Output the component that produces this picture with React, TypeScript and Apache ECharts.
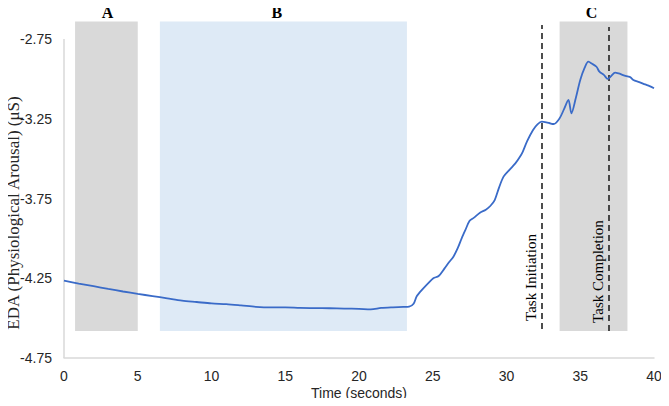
import React, { useEffect, useRef } from "react";
import * as echarts from "echarts";

// EDA trace samples: time (s) and skin conductance (µS)
const timeSec = [
  0, 1, 2, 3, 4, 5, 6, 7, 8, 9, 10, 11, 12, 13, 14, 15, 16, 17, 18, 19, 20,
  20.8, 21.5, 22.3, 23.0, 23.4, 23.7, 23.9, 24.1, 24.36, 24.7, 25.04, 25.4,
  25.8, 26.1, 26.4, 26.7, 26.96, 27.2, 27.5, 27.8, 28.2, 28.6, 28.9, 29.2,
  29.5, 29.8, 30.2, 30.6, 30.9, 31.1, 31.4, 31.8, 32.1, 32.39, 32.7, 33.0,
  33.2, 33.6, 33.9, 34.2, 34.4, 34.7, 35.0, 35.3, 35.55, 35.8, 36.1, 36.3,
  36.6, 36.86, 37.1, 37.36, 37.6, 37.9, 38.2, 38.4, 38.6, 39.0, 39.4, 39.7,
  40.0,
];
const edaValues = [
  -4.265, -4.283, -4.3, -4.317, -4.333, -4.348, -4.362, -4.376, -4.39,
  -4.399, -4.408, -4.412, -4.42, -4.429, -4.433, -4.433, -4.436, -4.437,
  -4.438, -4.44, -4.442, -4.445, -4.436, -4.432, -4.43, -4.428, -4.41,
  -4.365, -4.34, -4.313, -4.28, -4.25, -4.236, -4.188, -4.15, -4.115,
  -4.06, -4.0, -3.95, -3.89, -3.87, -3.839, -3.82, -3.797, -3.76, -3.68,
  -3.613, -3.57, -3.53, -3.49, -3.457, -3.39, -3.32, -3.285, -3.268,
  -3.272, -3.28, -3.283, -3.247, -3.19, -3.132, -3.216, -3.12, -3.007,
  -2.93, -2.892, -2.905, -2.924, -2.955, -2.975, -3.0, -2.982, -2.961,
  -2.966, -2.976, -2.985, -2.99, -3.007, -3.02, -3.035, -3.045, -3.059,
];

// Shaded phases: label, start/end time, top/bottom value
const phaseNames = ["A", "B", "C"];
const phaseStart = [0.75, 6.5, 33.6];
const phaseEnd = [5.0, 23.25, 38.2];
const phaseTop = -2.64;
const phaseBottom = -4.58;
const phaseColors = ["#d9d9d9", "#deeaf6", "#d9d9d9"];
const phaseLabelShift = [1, -6.5, -2];

// Event markers
const eventNames = ["Task Initiation", "Task Completion"];
const eventTimes = [32.4, 36.9];
const eventTop = [-2.662, -2.675];
const eventBottom = [-4.568, -4.58];

// Axis ticks; the value range runs a little above the top tick so the
// phase boxes and event markers can rise past the axis
const yTicks = [-4.75, -4.25, -3.75, -3.25, -2.75];
const yRangeMax = -2.55;
const xTicks = [0, 5, 10, 15, 20, 25, 30, 35, 40];

const yTitle = "EDA (Physiological Arousal) (\u03bcS)";
const xTitle = "Time (seconds)";

export default function App() {
  const ref = useRef<HTMLDivElement>(null);

  useEffect(() => {
    if (!ref.current) return;
    const chart = echarts.init(ref.current, undefined, { renderer: "svg" });

    const serif = "'Liberation Serif', 'Times New Roman', serif";
    const sans = "'Liberation Sans', Arial, sans-serif";
    const axisGray = "#d9d9d9";

    const yMin = yTicks[0];
    const yTop = yTicks[yTicks.length - 1];
    // keep -2.75 at the same height as a plain -4.75..-2.75 axis would put it
    const bottomPx = 48;
    const plotBottom = 406 - bottomPx;
    const pxPerUnit = (plotBottom - 39) / (yTop - yMin);
    const topPx = plotBottom - pxPerUnit * (yRangeMax - yMin);

    const areaData = phaseNames.map((name, i) => [
      {
        name,
        xAxis: phaseStart[i],
        yAxis: phaseTop,
        itemStyle: { color: phaseColors[i] },
        label: { offset: [phaseLabelShift[i], 0] },
      },
      { xAxis: phaseEnd[i], yAxis: phaseBottom },
    ]);

    const eventLines = eventNames.map((name, i) => [
      { name, coord: [eventTimes[i], eventBottom[i]] },
      { coord: [eventTimes[i], eventTop[i]] },
    ]);

    // the visible y axis line, only up to the top tick
    const yAxisLine = [
      {
        coord: [xTicks[0], yMin],
        lineStyle: { color: axisGray, type: "solid", width: 1.5 },
        label: { show: false },
      },
      { coord: [xTicks[0], yTop] },
    ];

    chart.setOption({
      animation: false,
      grid: {
        left: 64,
        right: 15,
        top: topPx,
        bottom: bottomPx,
        containLabel: false,
        outerBoundsMode: "none",
      },
      // vertical y-axis title
      graphic: [
        {
          type: "text",
          x: 13,
          y: 213,
          rotation: Math.PI / 2,
          silent: true,
          style: {
            text: yTitle,
            fontFamily: serif,
            fontSize: 17,
            fill: "#262626",
            textAlign: "center",
            textVerticalAlign: "middle",
          },
        },
      ],
      xAxis: {
        type: "value",
        min: xTicks[0],
        max: xTicks[xTicks.length - 1],
        interval: 5,
        name: xTitle,
        nameLocation: "middle",
        nameGap: 28,
        nameMoveOverlap: false,
        nameTextStyle: { fontFamily: sans, fontSize: 14, color: "#262626" },
        axisLine: { show: true, lineStyle: { color: axisGray, width: 1.5 } },
        axisTick: { show: false },
        splitLine: { show: false },
        axisLabel: { fontFamily: sans, fontSize: 14, color: "#262626", margin: 11 },
      },
      yAxis: {
        type: "value",
        min: yMin,
        max: yRangeMax,
        interval: 0.5,
        axisLine: { show: false },
        axisTick: { show: false },
        splitLine: { show: false },
        axisLabel: {
          fontFamily: sans,
          fontSize: 14,
          color: "#262626",
          margin: 12,
          showMaxLabel: false,
          formatter: (v: number) =>
            yTicks.some((t) => Math.abs(t - v) < 1e-6) ? v.toFixed(2) : "",
        },
      },
      series: [
        {
          type: "line",
          data: timeSec.map((t, i) => [t, edaValues[i]]),
          showSymbol: false,
          clip: false,
          smooth: 0.3,
          lineStyle: { color: "#3a6bc8", width: 1.8 },
          z: 5,
          markArea: {
            silent: true,
            z: 1,
            label: {
              show: true,
              position: "top",
              distance: 1,
              fontFamily: serif,
              fontWeight: "bold",
              fontSize: 16,
              color: "#000",
            },
            data: areaData,
          },
          markLine: {
            silent: true,
            symbol: "none",
            lineStyle: { color: "#222", type: [6, 4], width: 1.6 },
            label: {
              show: true,
              position: "insideStartTop",
              distance: [8, 3],
              formatter: "{b}",
              fontFamily: serif,
              fontSize: 15,
              color: "#000",
            },
            data: [...eventLines, yAxisLine],
          },
        },
      ],
    });

    return () => chart.dispose();
  }, []);

  return <div ref={ref} style={{ width: 669, height: 406, margin: -8 }} />;
}
